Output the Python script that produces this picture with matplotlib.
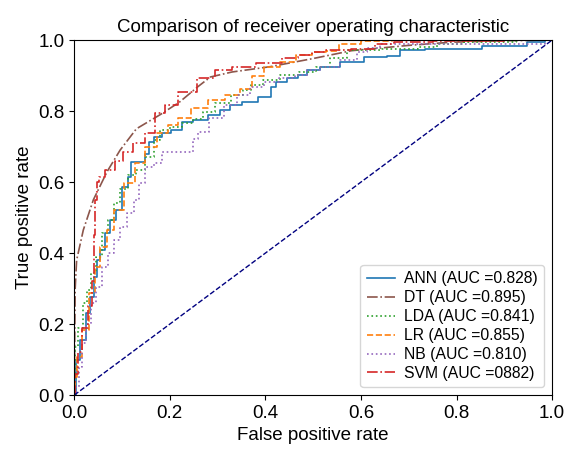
import matplotlib
matplotlib.use("Agg")
import matplotlib.pyplot as plt

plt.rcParams["font.family"] = ["Liberation Sans", "DejaVu Sans"]

# ROC points (fpr, tpr)
ann_fpr = [0, 0.006, 0.019, 0.03, 0.038, 0.044, 0.05, 0.059, 0.069, 0.082, 0.092, 0.107, 0.117, 0.121,
           0.142, 0.153, 0.159, 0.173, 0.195, 0.211, 0.238, 0.26, 0.3, 0.31, 0.34, 0.36, 0.41, 0.415,
           0.431, 0.458, 0.479, 0.494, 0.536, 0.577, 0.634, 0.676, 0.688, 0.78, 0.927, 0.969, 1.0]
ann_tpr = [0, 0.1, 0.155, 0.23, 0.276, 0.333, 0.38, 0.41, 0.456, 0.493, 0.52, 0.586, 0.614, 0.656,
           0.656, 0.68, 0.713, 0.727, 0.738, 0.746, 0.769, 0.775, 0.789, 0.803, 0.817, 0.825, 0.84, 0.868,
           0.882, 0.893, 0.901, 0.915, 0.924, 0.938, 0.952, 0.955, 0.972, 0.975, 0.983, 0.994, 1.0]

dt_fpr = [0, 0.002, 0.005, 0.019, 0.04, 0.069, 0.096, 0.13, 0.18, 0.22, 0.26, 0.285, 0.33, 0.41,
          0.5, 0.58, 0.7, 0.79, 0.9, 1.0]
dt_tpr = [0, 0.3, 0.38, 0.465, 0.55, 0.63, 0.69, 0.75, 0.79, 0.825, 0.87, 0.896, 0.91, 0.925,
          0.948, 0.97, 0.985, 0.994, 0.998, 1.0]

lda_fpr = [0, 0.002, 0.013, 0.023, 0.03, 0.04, 0.05, 0.065, 0.075, 0.09, 0.103, 0.121, 0.138, 0.159,
           0.173, 0.186, 0.215, 0.236, 0.26, 0.28, 0.31, 0.345, 0.36, 0.38, 0.41, 0.45, 0.49, 0.52,
           0.55, 0.59, 0.7, 0.74, 0.78, 0.85, 1.0]
lda_tpr = [0, 0.135, 0.19, 0.26, 0.296, 0.343, 0.389, 0.456, 0.493, 0.54, 0.58, 0.62, 0.634, 0.67,
           0.718, 0.746, 0.755, 0.766, 0.778, 0.797, 0.822, 0.845, 0.859, 0.873, 0.887, 0.901, 0.91, 0.924,
           0.949, 0.972, 0.975, 0.98, 0.99, 0.994, 1.0]

lr_fpr = [0, 0.003, 0.008, 0.023, 0.038, 0.048, 0.061, 0.075, 0.092, 0.117, 0.138, 0.159, 0.186,
          0.207, 0.228, 0.26, 0.3, 0.333, 0.362, 0.383, 0.41, 0.45, 0.479, 0.515, 0.54, 0.57, 0.63,
          0.7, 1.0]
lr_tpr = [0, 0.05, 0.107, 0.183, 0.287, 0.36, 0.417, 0.465, 0.52, 0.597, 0.653, 0.7, 0.738,
          0.76, 0.78, 0.81, 0.83, 0.845, 0.862, 0.9, 0.924, 0.938, 0.958, 0.966, 0.97, 0.99, 0.998,
          1.0, 1.0]

nb_fpr = [0, 0.006, 0.013, 0.019, 0.03, 0.04, 0.05, 0.065, 0.075, 0.09, 0.103, 0.117, 0.132, 0.138,
          0.159, 0.173, 0.195, 0.24, 0.255, 0.264, 0.3, 0.326, 0.354, 0.383, 0.41, 0.446, 0.479, 0.494,
          0.536, 0.577, 0.605, 0.62, 0.66, 0.97, 1.0]
nb_tpr = [0, 0.023, 0.08, 0.146, 0.2, 0.26, 0.305, 0.36, 0.4, 0.437, 0.473, 0.512, 0.55, 0.597,
          0.642, 0.653, 0.685, 0.685, 0.72, 0.741, 0.78, 0.817, 0.845, 0.868, 0.882, 0.893, 0.901, 0.915,
          0.924, 0.944, 0.966, 0.977, 0.99, 0.99, 1.0]

svm_fpr = [0, 0.004, 0.01, 0.023, 0.033, 0.04, 0.042, 0.045, 0.05, 0.054, 0.075, 0.096, 0.11, 0.138,
           0.159, 0.18, 0.2, 0.236, 0.278, 0.312, 0.35, 0.41, 0.458, 0.48, 0.515, 0.54, 0.62, 0.64,
           0.7, 0.8, 1.0]
svm_tpr = [0, 0.06, 0.12, 0.19, 0.25, 0.32, 0.45, 0.55, 0.6, 0.614, 0.634, 0.66, 0.685, 0.71,
           0.738, 0.794, 0.817, 0.854, 0.893, 0.915, 0.924, 0.935, 0.949, 0.958, 0.966, 0.972, 0.975, 0.99,
           0.995, 0.998, 1.0]

labels = ["ANN (AUC =0.828)", "DT (AUC =0.895)", "LDA (AUC =0.841)",
          "LR (AUC =0.855)", "NB (AUC =0.810)", "SVM (AUC =0882)"]

fig = plt.figure(figsize=(5.71, 4.5), dpi=100)
ax = fig.add_axes([0.13, 0.122, 0.837, 0.789])

# stepped roc curves, dt drawn smooth like the original
ax.plot(ann_fpr, ann_tpr, color="tab:blue", ls="-", lw=1.2, drawstyle="steps-mid", label=labels[0])
ax.plot(dt_fpr, dt_tpr, color="tab:brown", ls="-.", lw=1.2, label=labels[1])
ax.plot(lda_fpr, lda_tpr, color="tab:green", ls=":", lw=1.2, drawstyle="steps-mid", label=labels[2])
ax.plot(lr_fpr, lr_tpr, color="tab:orange", ls="--", lw=1.2, drawstyle="steps-mid", label=labels[3])
ax.plot(nb_fpr, nb_tpr, color="tab:purple", ls=":", lw=1.2, drawstyle="steps-mid", label=labels[4])
ax.plot(svm_fpr, svm_tpr, color="tab:red", ls="-.", lw=1.2, drawstyle="steps-mid", label=labels[5])
ax.plot([0, 1], [0, 1], color="navy", ls="--", lw=1.0)

ax.set_xlim(0, 1)
ax.set_ylim(0, 1)
ax.set_xlabel("False positive rate", fontsize=13.5)
ax.set_ylabel("True positive rate", fontsize=13.5)
ax.set_title("Comparison of receiver operating characteristic", fontsize=13.5)
ax.tick_params(labelsize=13.5)
ax.legend(loc="lower right", fontsize=11.3, handlelength=1.8, labelspacing=0.25,
          handletextpad=0.6, borderpad=0.4)

fig.savefig("out.png", dpi=100)
